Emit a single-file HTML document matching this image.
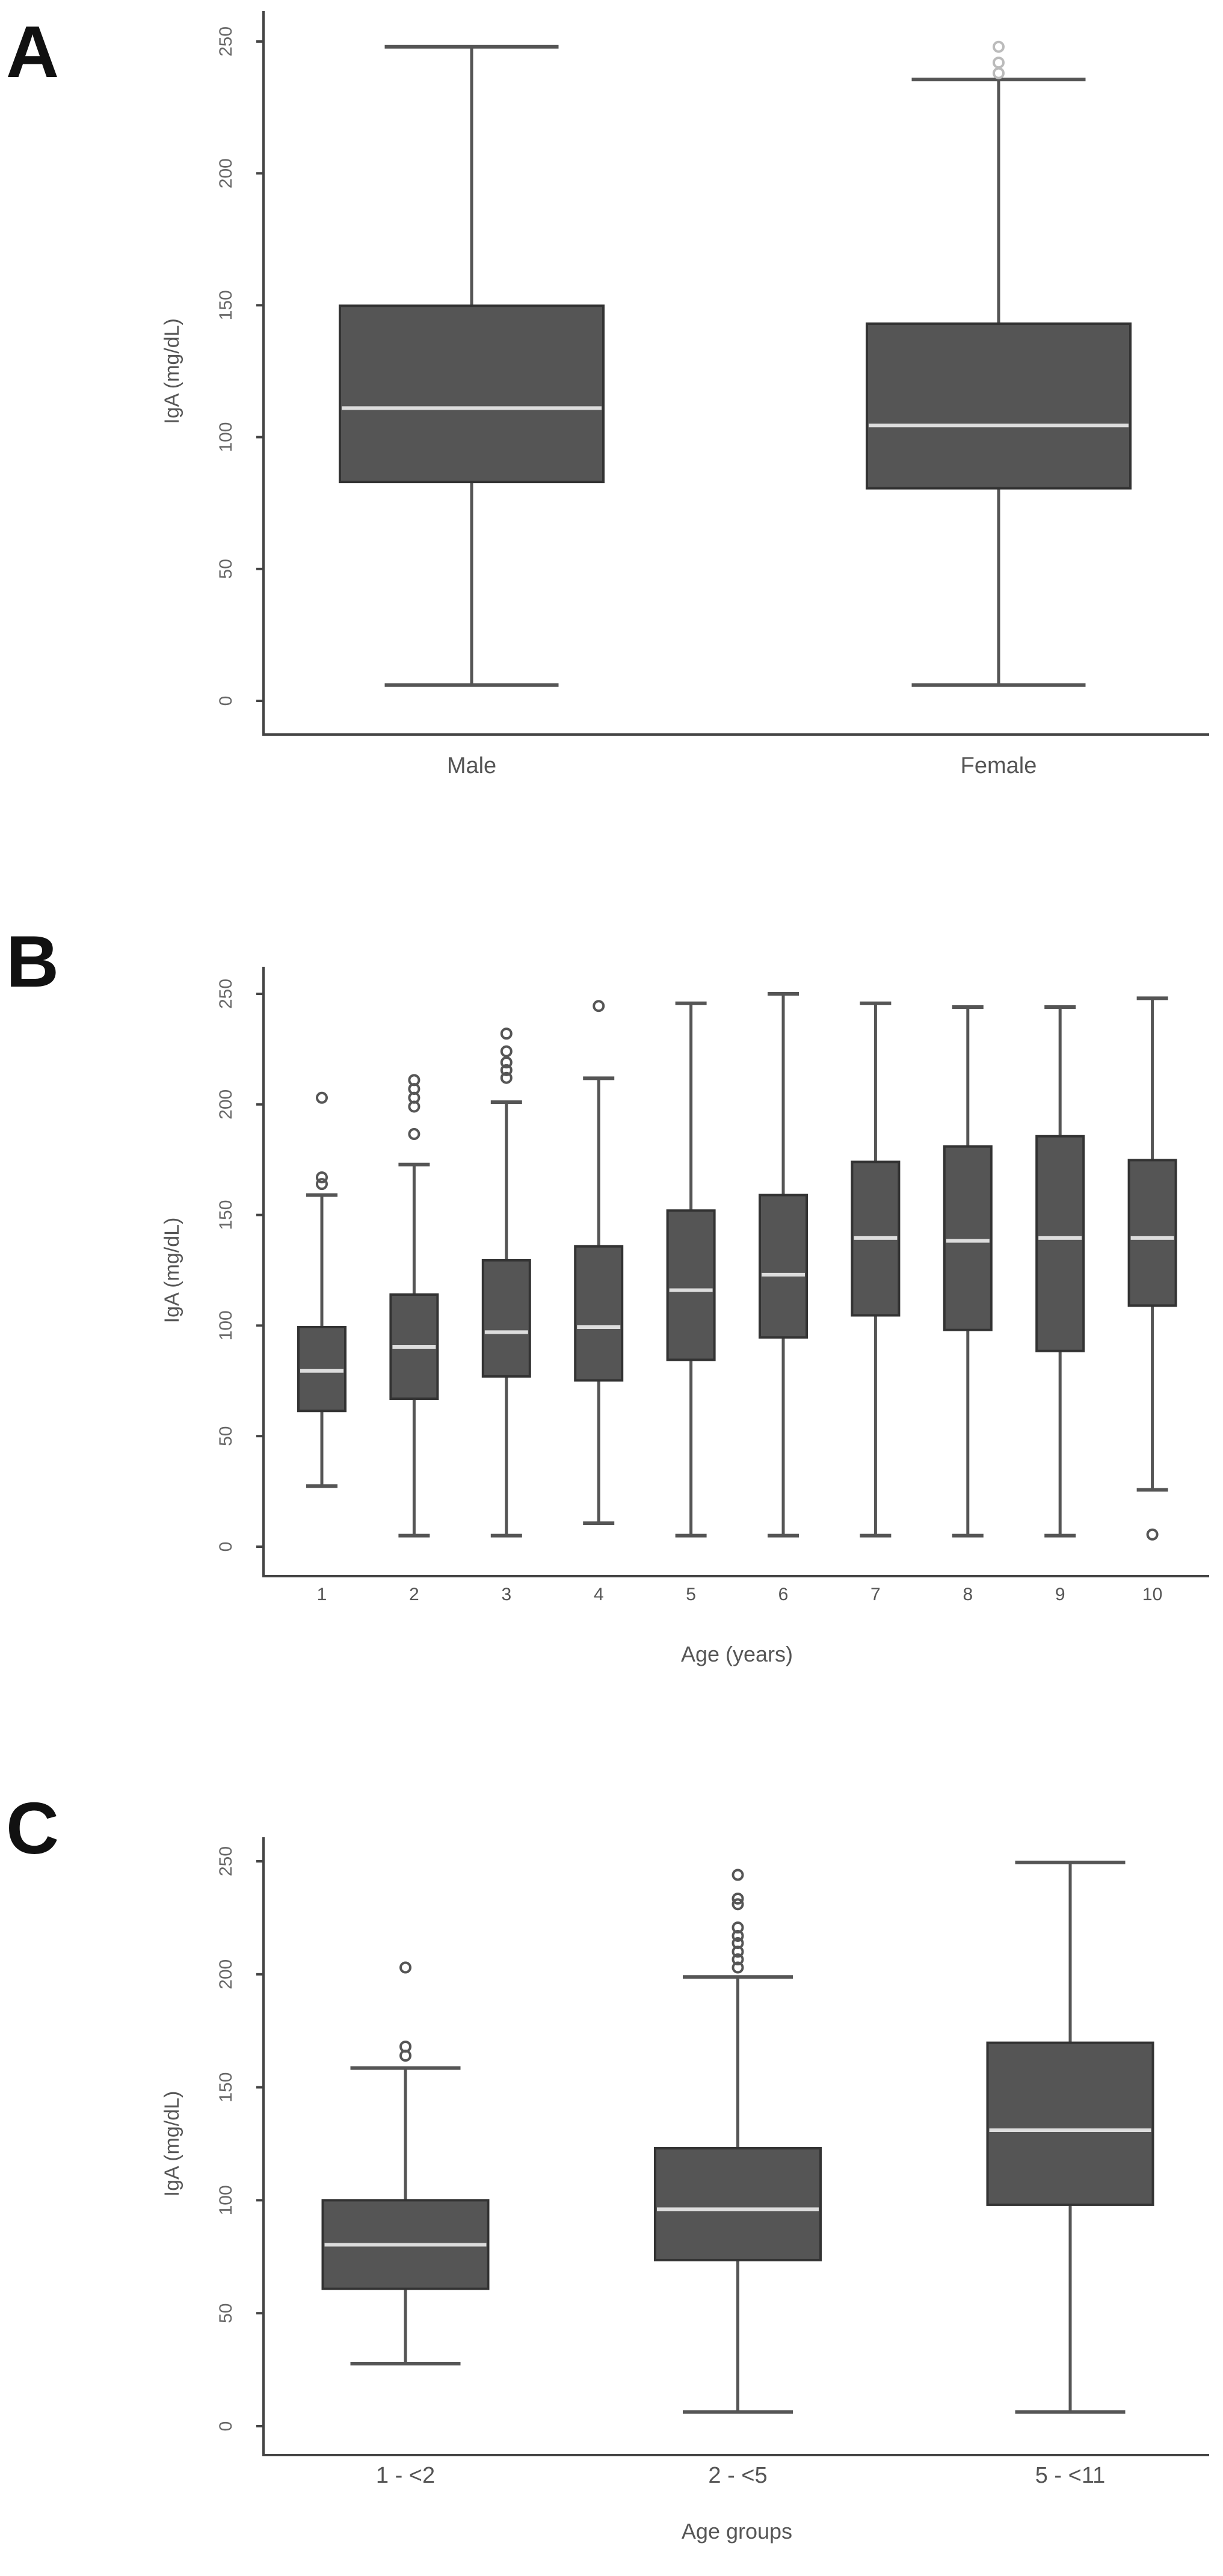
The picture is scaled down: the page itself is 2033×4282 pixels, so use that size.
<!DOCTYPE html>
<html><head><meta charset="utf-8"><style>
html,body{margin:0;padding:0;background:#fff;}
svg{display:block;font-family:"Liberation Sans",sans-serif;}
</style></head><body>
<svg id="fig" width="2033" height="4282" viewBox="0 0 2033 4282" xmlns="http://www.w3.org/2000/svg">
<rect width="2033" height="4282" fill="#fff"/>
</svg>
<script>
// ---------- data ----------
const yTicks = [0, 50, 100, 150, 200, 250];
const catsA = ["Male", "Female"];
const lowA = [6, 6];
const q1A = [83, 80.6];
const medA = [111, 104.4];
const q3A = [149.8, 143];
const highA = [248, 235.6];
const outA = [[], [238, 242, 248]];

const catsB = ["1","2","3","4","5","6","7","8","9","10"];
const lowB = [27.4, 5, 5, 10.6, 5, 5, 5, 5, 5, 25.7];
const q1B = [61.4, 66.9, 77, 75.2, 84.5, 94.6, 104.6, 98, 88.5, 109];
const medB = [79.5, 90.3, 97, 99.3, 116, 123, 139.6, 138.3, 139.6, 139.6];
const q3B = [99.3, 114, 129.5, 135.8, 152, 159, 174, 181, 185.6, 174.8];
const highB = [159, 172.8, 201, 211.8, 245.7, 250, 245.7, 244, 244, 248];
const outB = [[164,167,203],[186.6,199,203,207,211],[212,215.5,219,224,232],[244.5],[],[],[],[],[],[5.5]];

const catsC = ["1 - <2", "2 - <5", "5 - <11"];
const lowC = [27.7, 6.3, 6.3];
const q1C = [60.8, 73.5, 98];
const medC = [80.3, 96, 131];
const q3C = [100, 123, 169.7];
const highC = [158.5, 198.8, 249.5];
const outC = [[164,168,203],[203,206.6,210,213.8,217,220.7,231,233.5,244],[]];

// ---------- drawing ----------
const NS = "http://www.w3.org/2000/svg";
const svg = document.getElementById("fig");
function mk(tag, attrs, parent) {
  const e = document.createElementNS(NS, tag);
  for (const k in attrs) e.setAttribute(k, attrs[k]);
  (parent || svg).appendChild(e);
  return e;
}

function panel(p) {
  const g = mk("g", {});
  
  
  const y = v => p.y0 + (p.y250 - p.y0) * v / 250;
  const x = i => p.xStart + i * p.xStep;
  const letter = mk("text", {x: 10, y: p.letterY, "font-size": 122, "font-weight": "bold", fill: "#111"}, g);
  letter.textContent = p.letter;
  
  
  const ya = mk("line", {x1: 438, y1: p.axisTop, x2: 438, y2: p.xAxisY, stroke: "#444", "stroke-width": 4}, g);
  
  
  const xa = mk("line", {x1: 436, y1: p.xAxisY, x2: 2010, y2: p.xAxisY, stroke: "#444", "stroke-width": 4}, g);
  
  
  yTicks.forEach(t => {
    const tk = mk("line", {x1: 426, y1: y(t), x2: 438, y2: y(t), stroke: "#444", "stroke-width": 4}, g);
    
    
    const tl = mk("text", {x: 0, y: 0, "font-size": 30, fill: "#666", "text-anchor": "middle",
      transform: `translate(385 ${y(t)}) rotate(-90)`}, g);
    tl.textContent = t;
    
    
  });
  const yl = mk("text", {x: 0, y: 0, "font-size": 34, fill: "#555", "text-anchor": "middle",
    transform: `translate(297 ${(y(0) + y(250)) / 2}) rotate(-90)`}, g);
  yl.textContent = "IgA (mg/dL)";
  
  
  if (p.xTitle) {
    const xt = mk("text", {x: 1225, y: p.xTitleY, "font-size": 36, fill: "#555", "text-anchor": "middle"}, g);
    xt.textContent = p.xTitle;
    
    
  }
  p.cats.forEach((c, i) => {
    const cx = x(i);
    const bg = mk("g", {}, g);
    
    
    mk("line", {x1: cx, y1: y(p.high[i]), x2: cx, y2: y(p.low[i]), stroke: "#555", "stroke-width": 5}, bg);
    mk("line", {x1: cx - p.cap / 2, y1: y(p.high[i]), x2: cx + p.cap / 2, y2: y(p.high[i]), stroke: "#555", "stroke-width": 6}, bg);
    mk("line", {x1: cx - p.cap / 2, y1: y(p.low[i]), x2: cx + p.cap / 2, y2: y(p.low[i]), stroke: "#555", "stroke-width": 6}, bg);
    mk("rect", {x: cx - p.bw / 2, y: y(p.q3[i]), width: p.bw, height: y(p.q1[i]) - y(p.q3[i]),
      fill: "#555", stroke: "#333", "stroke-width": 4}, bg);
    mk("line", {x1: cx - p.bw / 2 + 3, y1: y(p.med[i]), x2: cx + p.bw / 2 - 3, y2: y(p.med[i]), stroke: "#ddd", "stroke-width": 6}, bg);
    p.out[i].forEach(v => {
      const o = mk("circle", {cx: cx, cy: y(v), r: 8, fill: "none", stroke: p.outColor, "stroke-width": 4}, bg);
      
      
    });
    const lbl = mk("text", {x: cx, y: p.labelY, "font-size": p.labelSize, fill: "#555", "text-anchor": "middle"}, g);
    lbl.textContent = c;
    
    
  });
}

panel({letter: "A", letterY: 128, axisTop: 18, xAxisY: 1221, y0: 1165, y250: 69,
  xStart: 784, xStep: 876, bw: 438, cap: 289, labelY: 1285, labelSize: 38,
  cats: catsA, low: lowA, q1: q1A, med: medA, q3: q3A, high: highA, out: outA, outColor: "#bbb"});
panel({letter: "B", letterY: 1640, axisTop: 1607, xAxisY: 2620, y0: 2571, y250: 1652,
  xStart: 535, xStep: 153.4, bw: 78, cap: 52, labelY: 2660, labelSize: 30,
  xTitle: "Age (years)", xTitleY: 2762,
  cats: catsB, low: lowB, q1: q1B, med: medB, q3: q3B, high: highB, out: outB, outColor: "#555"});
panel({letter: "C", letterY: 3081, axisTop: 3054, xAxisY: 4081, y0: 4033, y250: 3094,
  xStart: 674, xStep: 552.5, bw: 275, cap: 183, labelY: 4127, labelSize: 38,
  xTitle: "Age groups", xTitleY: 4220,
  cats: catsC, low: lowC, q1: q1C, med: medC, q3: q3C, high: highC, out: outC, outColor: "#555"});
</script>
</body></html>
